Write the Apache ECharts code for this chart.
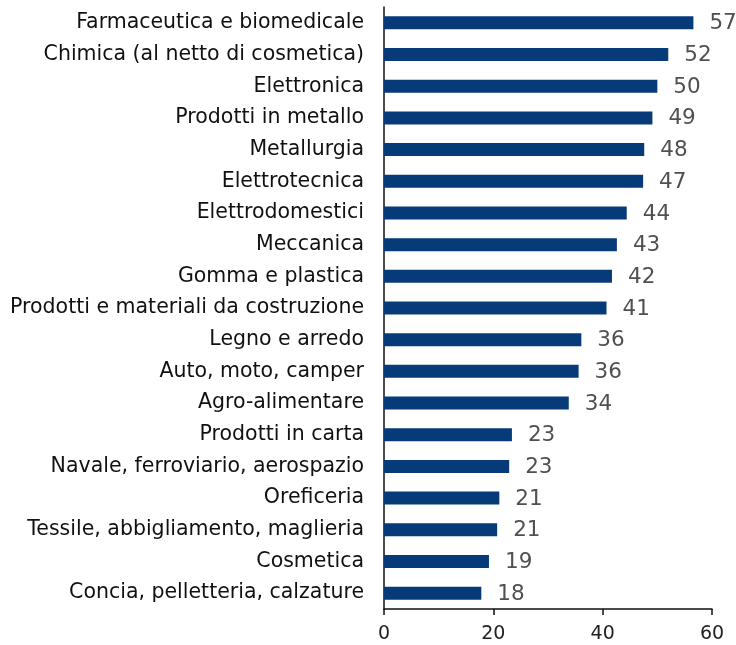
<!DOCTYPE html>
<html>
<head>
<meta charset="utf-8">
<script src="https://cdn.jsdelivr.net/npm/echarts@6/dist/echarts.min.js"></script>
<style>
  html, body { margin: 0; padding: 0; background: #fff; }
  #chart { width: 736px; height: 645px; }
</style>
</head>
<body>
<div id="chart"></div>
<script>
// settori, dall'alto verso il basso
var categories = [
  'Farmaceutica e biomedicale',
  'Chimica (al netto di cosmetica)',
  'Elettronica',
  'Prodotti in metallo',
  'Metallurgia',
  'Elettrotecnica',
  'Elettrodomestici',
  'Meccanica',
  'Gomma e plastica',
  'Prodotti e materiali da costruzione',
  'Legno e arredo',
  'Auto, moto, camper',
  'Agro-alimentare',
  'Prodotti in carta',
  'Navale, ferroviario, aerospazio',
  'Oreficeria',
  'Tessile, abbigliamento, maglieria',
  'Cosmetica',
  'Concia, pelletteria, calzature'
]
var values = [56.6, 52.0, 50.0, 49.1, 47.6, 47.4, 44.4, 42.6, 41.7, 40.7,
  36.1, 35.6, 33.8, 23.4, 22.9, 21.1, 20.7, 19.2, 17.8]
var xTicks = [0, 20, 40, 60]

var chart = echarts.init(document.getElementById('chart'))
var font = 'DejaVu Sans'

chart.setOption({
  animation: false,
  grid: {
    left: 384,
    right: 24,
    top: 7,
    bottom: 36
  },
  xAxis: {
    type: 'value',
    min: xTicks[0],
    max: xTicks[xTicks.length - 1],
    interval: xTicks[1] - xTicks[0],
    splitLine: { show: false },
    axisLine: { show: true, lineStyle: { color: '#111', width: 1.5 } },
    axisTick: { show: true, length: 6, lineStyle: { color: '#111', width: 1.5 } },
    axisLabel: { color: '#222', fontSize: 19, fontFamily: font, margin: 16 }
  },
  yAxis: {
    type: 'category',
    inverse: true,
    data: categories,
    axisLine: { show: true, lineStyle: { color: '#111', width: 1.5 } },
    axisTick: { show: false },
    axisLabel: { color: '#111', fontSize: 20.5, fontFamily: font, margin: 20 }
  },
  series: [{
    type: 'bar',
    data: values,
    barWidth: 13,
    itemStyle: { color: '#063a78' },
    label: {
      show: true,
      position: 'right',
      distance: 16,
      color: '#505050',
      fontSize: 21.5,
      fontFamily: font,
      offset: [0, 1],
      formatter: function (p) { return Math.round(p.value) }
    }
  }]
})
</script>
</body>
</html>
